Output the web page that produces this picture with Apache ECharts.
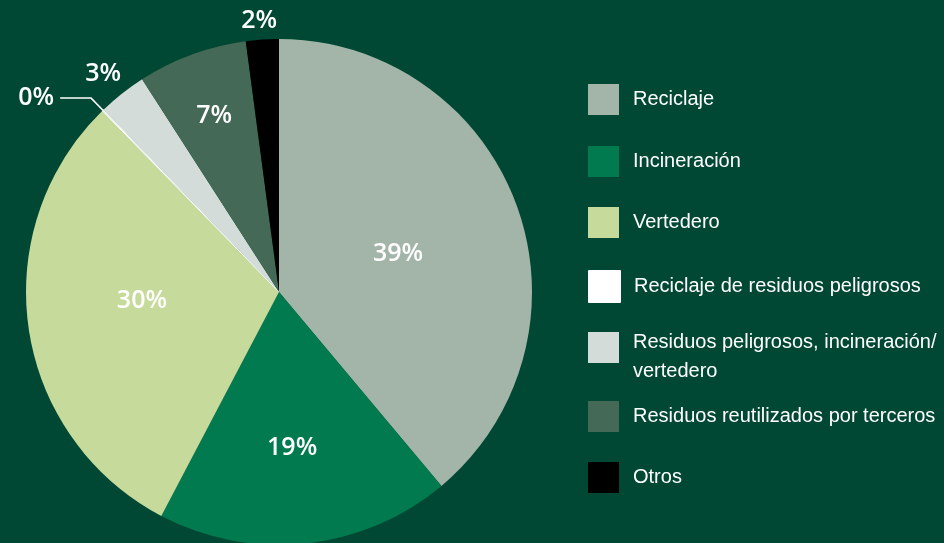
<!DOCTYPE html>
<html>
<head>
<meta charset="utf-8">
<script src="https://cdn.jsdelivr.net/npm/echarts@6/dist/echarts.min.js"></script>
<style>
  html, body { margin: 0; padding: 0; background: #004833; }
  #main { width: 944px; height: 543px; }
</style>
</head>
<body>
<div id="main"></div>
<script>
// datos (%)
var categorias = ['Reciclaje', 'Incineración', 'Vertedero', 'Reciclaje de residuos peligrosos',
  'Residuos peligrosos, incineración/vertedero', 'Residuos reutilizados por terceros', 'Otros'];
var valores = [38.9, 18.8, 30.0, 0.1, 3.1, 7.0, 2.1];

// estilo
var colores = ['#a2b5a8', '#007a4e', '#c5da9b', '#ffffff', '#d3dcd8', '#446956', '#000000'];
// etiqueta: radio relativo y giro (grados) respecto al punto medio; null = etiqueta con línea
var radioEtiqueta = [0.494, 0.619, 0.543, null, 1.108, 0.743, 1.075];
var giroEtiqueta = [2.2, 1.3, 4.4, 0, -0.5, 0, -0.4];
var legendTops = [84, 146, 207, 270, 313.5, 401, 462];
var centro = [279, 292], radio = 253;
var fuenteLeyenda = '"Liberation Sans", Arial, sans-serif';

var myChart = echarts.init(document.getElementById('main'));

var leyendas = categorias.map(function (n, i) {
  var dosLineas = n.indexOf('/') >= 0;
  return {
    data: [n],
    orient: 'vertical',
    left: 588,
    top: legendTops[i],
    padding: 0,
    itemWidth: 31,
    itemHeight: 31,
    icon: 'rect',
    selectedMode: false,
    formatter: function (name) {
      if (!dosLineas) return name;
      var partes = name.split('/');
      return '{s| }\n{b|' + partes[0] + '/}\n{b|' + partes[1] + '}';
    },
    textStyle: {
      color: '#fff',
      fontFamily: fuenteLeyenda,
      fontSize: 20,
      padding: [0, 0, 0, 9],
      rich: {
        s: { fontSize: 10, lineHeight: 18 },
        b: { color: '#fff', fontFamily: fuenteLeyenda, fontSize: 20, lineHeight: 29 }
      }
    }
  };
});

var option = {
  backgroundColor: '#004833',
  animation: false,
  legend: leyendas,
  series: [{
    type: 'pie',
    center: centro,
    radius: radio,
    startAngle: 90,
    clockwise: true,
    percentPrecision: 0,
    avoidLabelOverlap: false,
    label: {
      position: 'inside',
      formatter: '{d}%',
      color: '#fff',
      fontFamily: '"Open Sans", sans-serif',
      fontWeight: 600,
      fontSize: 25
    },
    labelLine: { show: false },
    itemStyle: { borderWidth: 0 },
    data: categorias.map(function (n, i) {
      var d = { name: n, value: valores[i], itemStyle: { color: colores[i] } };
      if (radioEtiqueta[i] === null) {
        d.label = { position: 'outside', distanceToLabelLine: 6 };
        d.labelLine = { show: true, length: 17, length2: 31, lineStyle: { color: '#fff', width: 1.5 } };
        d.itemStyle.borderColor = '#fff';
        d.itemStyle.borderWidth = 1;
      }
      return d;
    }),
    // recolocar las etiquetas en coordenadas polares
    labelLayout: function (p) {
      var f = radioEtiqueta[p.dataIndex];
      if (f === null) return {};
      var r = p.labelRect;
      var cx = r.x + r.width / 2, cy = r.y + r.height / 2;
      var vx = cx - centro[0], vy = cy - centro[1];
      var ang = Math.atan2(vx, -vy) + giroEtiqueta[p.dataIndex] * Math.PI / 180;
      var nx = centro[0] + f * radio * Math.sin(ang);
      var ny = centro[1] - f * radio * Math.cos(ang);
      return { dx: nx - cx, dy: ny - cy };
    }
  }]
};

myChart.setOption(option);
</script>
</body>
</html>
